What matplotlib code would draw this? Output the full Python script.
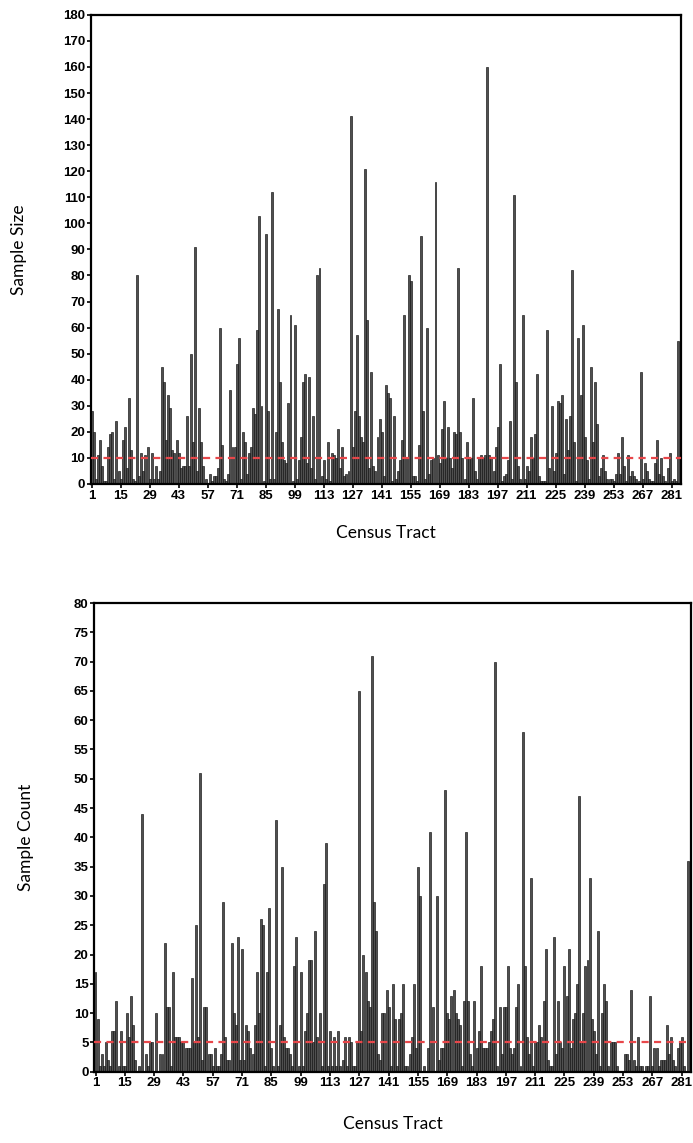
import matplotlib
matplotlib.use("Agg")
import matplotlib.pyplot as plt
import numpy as np

# sample size per census tract (top panel)
sample_size = [
    28, 20, 2, 11, 17, 7, 1, 1, 14, 19, 20, 2, 24, 5, 2, 17, 22, 6, 33, 13,
    2, 1, 80, 3, 12, 5, 11, 14, 2, 12, 2, 7, 2, 5, 45, 39, 17, 34, 29, 13,
    12, 17, 12, 6, 7, 7, 26, 7, 50, 16, 91,
    5, 29, 16, 7, 2, 0, 4, 1, 3, 3, 6, 60, 15, 2, 1, 4, 36, 14, 14, 46,
    56, 2, 20, 16, 4, 12, 14, 29, 27, 59, 103, 30, 1, 96, 28, 2, 112,
    2, 20, 67, 39, 16, 9, 8, 31, 65, 1, 61, 2, 9, 18, 39, 42, 8, 41, 6, 26,
    2, 80, 83, 3, 9, 2, 16, 1, 12, 11, 10, 21, 6, 14, 3, 4, 5, 141,
    14, 28, 57, 26, 18, 16, 121, 63, 6, 43, 7, 5, 18, 25, 20, 3, 38, 35, 33, 1,
    26, 2, 5, 9, 17, 65, 10, 80, 78, 3, 3, 1, 15, 95, 28, 2, 60, 4, 9, 10,
    116, 11, 8, 21, 32, 10, 22, 10, 6, 20, 19, 83, 20, 10, 2, 16, 10, 10, 33, 5,
    2, 10, 11, 10, 11, 160,
    11, 10, 5, 14, 22, 46, 1, 3, 4, 9, 24, 2, 111, 39, 7, 2, 65, 2, 7, 5,
    18, 10, 19, 42, 3, 1, 1, 1, 59, 6, 30, 5, 12, 32, 31, 34, 4, 25, 13, 26,
    82, 16, 1, 56, 34, 61, 18, 9, 2, 45, 16, 39, 23, 3, 6, 11, 5, 2, 2, 2,
    1, 4, 12, 4, 18, 7, 1, 11, 3, 5, 3, 2, 1, 43, 2, 8, 5, 2, 1, 1,
    8, 17, 4, 10, 3, 1, 6, 12, 1, 2, 1, 55,
]

# sample count per census tract (bottom panel)
sample_count = [
    17, 9, 1, 3, 1, 5, 2, 1, 7, 7, 12, 1, 7, 1, 1, 10, 6, 13, 8, 2,
    0, 1, 44, 0, 3, 1, 5, 5, 0, 10, 0, 3, 3, 22, 11, 11, 1, 17, 6, 6,
    6, 5, 5, 4, 4,
    4, 16, 5, 25, 6, 51, 2, 11, 11, 3, 3, 1, 4, 1, 1, 3, 29, 6, 2, 2,
    22, 10, 8, 23, 2, 21, 2, 8, 7, 4, 3, 8, 17, 10, 26, 25, 1, 17, 28, 4,
    1, 43, 1, 8, 35, 6, 4,
    4, 3, 1, 18, 23, 1, 17, 1, 7, 10, 19, 19, 5, 24, 6, 10, 1, 32, 39,
    1, 7, 1, 6, 1, 7, 1, 2, 6, 1, 6, 5, 1, 1, 5, 65,
    7, 20, 17, 12, 11, 71, 29, 24, 3, 2, 10,
    10, 14, 11, 1, 15, 9, 1, 9, 10, 15, 1, 1, 3, 6, 15, 4, 35, 30, 0, 1,
    0, 4, 41, 11, 0, 30, 2, 4, 4, 48, 10, 9, 13, 14, 10, 9, 8, 1, 12, 41,
    12, 3, 1, 12, 4, 7, 18, 4, 4,
    4, 5, 7, 9, 70, 1, 11, 3, 11, 11, 18, 4, 3, 4, 11, 15, 1, 58, 18, 6,
    3, 33, 1, 5, 5, 8, 6, 12, 21, 2, 1, 1, 23, 3, 12, 5, 4, 18, 13, 21,
    4, 9, 10, 15, 47, 5, 10, 18, 19, 33,
    9, 7, 3, 24, 1, 10, 15, 12, 1, 5, 5, 5, 1, 0, 0, 0, 3, 3, 2, 14,
    2, 1, 6, 1, 1, 0, 1, 1, 13, 1, 4, 4, 1, 2, 2, 2, 8, 3, 6, 2,
    1, 4, 5, 6, 1, 0, 36,
]

tract_ticks = list(range(1, 282, 14))
size_threshold = 10
count_threshold = 5

TICK_FONT = ['Liberation Sans Narrow', 'Liberation Sans', 'DejaVu Sans']
LABEL_FONT = ['Lato', 'DejaVu Sans']


def draw_panel(ax, values, threshold, ymax, ystep, ylabel, xlim):
    tracts = np.arange(1, len(values) + 1)
    ax.bar(tracts, values, width=0.95, color='#505050', edgecolor='#111111',
           linewidth=0.45, zorder=2)
    ax.axhline(threshold, color='#e8474a', linewidth=1.6,
               linestyle=(0, (3.2, 2.4)), zorder=3)

    ax.set_xlim(*xlim)
    ax.set_ylim(0, ymax)
    ax.set_xticks(tract_ticks)
    ax.set_yticks(np.arange(0, ymax + 1, ystep))

    for side in ['left', 'right', 'top', 'bottom']:
        ax.spines[side].set_linewidth(1.6)
        ax.spines[side].set_color('black')
    ax.tick_params(axis='both', direction='out', length=3, width=1.2, pad=1)
    for lbl in ax.get_xticklabels() + ax.get_yticklabels():
        lbl.set_family(TICK_FONT)
        lbl.set_fontweight('bold')
        lbl.set_fontsize(9.5)

    ax.set_xlabel('Census Tract', family=LABEL_FONT, fontsize=12.5, labelpad=17)
    ax.set_ylabel(ylabel, family=LABEL_FONT, fontsize=12.5, labelpad=26)


fig = plt.figure(figsize=(6.93, 11.43), dpi=100)

ax1 = fig.add_axes([0.131, 0.5766, 0.852, 0.4104])
draw_panel(ax1, sample_size, size_threshold, 180, 10, 'Sample Size', (0.6, 285.6))

ax2 = fig.add_axes([0.136, 0.0624, 0.861, 0.4100])
draw_panel(ax2, sample_count, count_threshold, 80, 5, 'Sample Count', (0.4, 285.4))
ax2.xaxis.labelpad = 19
ax2.yaxis.labelpad = 29

fig.savefig('out.png', dpi=100)
